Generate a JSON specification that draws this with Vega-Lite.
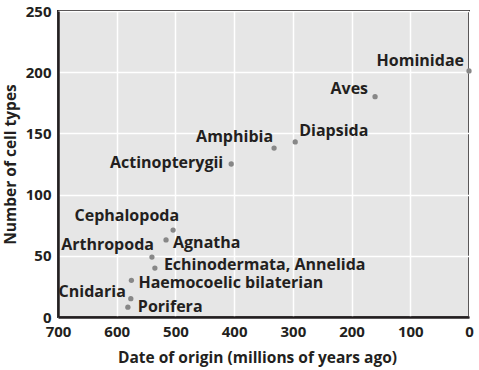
{
  "$schema": "https://vega.github.io/schema/vega-lite/v6.json",
  "width": 411,
  "height": 306,
  "autosize": {"type": "none"},
  "padding": {"left": 58, "top": 11, "right": 10, "bottom": 53},
  "background": "white",
  "config": {
    "view": {"fill": "#e6e6e6", "stroke": "#231f20", "strokeWidth": 2},
    "font": "Open Sans",
    "text": {"font": "Open Sans", "fontWeight": "bold", "fontSize": 16, "color": "#231f20", "baseline": "middle"},
    "axis": {
      "labelFont": "Open Sans", "labelFontWeight": "bold", "labelFontSize": 15, "labelColor": "#231f20",
      "titleFont": "Open Sans", "titleFontWeight": "bold", "titleFontSize": 15.5, "titleColor": "#231f20",
      "gridColor": "white", "gridWidth": 1.5, "gridOpacity": 1,
      "domainColor": "#231f20", "domainWidth": 2.5, "ticks": false
    }
  },
  "data": {
    "values": [
      {"taxon": "Hominidae", "mya": 0, "cells": 201},
      {"taxon": "Aves", "mya": 160, "cells": 180},
      {"taxon": "Diapsida", "mya": 296, "cells": 143},
      {"taxon": "Amphibia", "mya": 332, "cells": 138},
      {"taxon": "Actinopterygii", "mya": 405, "cells": 125},
      {"taxon": "Cephalopoda", "mya": 504, "cells": 71},
      {"taxon": "Agnatha", "mya": 516, "cells": 63},
      {"taxon": "Arthropoda", "mya": 540, "cells": 49},
      {"taxon": "Echinodermata, Annelida", "mya": 535, "cells": 40},
      {"taxon": "Haemocoelic bilaterian", "mya": 575, "cells": 30},
      {"taxon": "Cnidaria", "mya": 576, "cells": 15},
      {"taxon": "Porifera", "mya": 581, "cells": 8}
    ]
  },
  "encoding": {
    "x": {"field": "mya", "type": "quantitative",
          "scale": {"domain": [700, 0], "nice": false},
          "axis": {"values": [700, 600, 500, 400, 300, 200, 100, 0], "labelPadding": 7, "titlePadding": 11, "labelFlush": false,
                   "titleX": 199, "titleAlign": "center",
                   "title": "Date of origin (millions of years ago)"}},
    "y": {"field": "cells", "type": "quantitative",
          "scale": {"domain": [0, 250], "nice": false},
          "axis": {"values": [0, 50, 100, 150, 200, 250], "labelPadding": 7, "titlePadding": 7, "labelFlush": false,
                   "title": "Number of cell types"}},
    "text": {"field": "taxon"}
  },
  "layer": [
    {"mark": {"type": "circle", "size": 28, "color": "#878787", "opacity": 1}, "encoding": {"text": null}},
    {"transform": [{"filter": {"field": "taxon", "equal": "Hominidae"}}], "mark": {"type": "text", "align": "right", "dx": -5, "dy": -10}},
    {"transform": [{"filter": {"field": "taxon", "equal": "Aves"}}], "mark": {"type": "text", "align": "right", "dx": -7, "dy": -8}},
    {"transform": [{"filter": {"field": "taxon", "equal": "Amphibia"}}], "mark": {"type": "text", "align": "right", "dx": -1, "dy": -11}},
    {"transform": [{"filter": {"field": "taxon", "equal": "Cephalopoda"}}], "mark": {"type": "text", "align": "right", "dx": 6, "dy": -14}},
    {"transform": [{"filter": {"field": "taxon", "equal": "Arthropoda"}}], "mark": {"type": "text", "align": "right", "dx": 2, "dy": -12}},
    {"transform": [{"filter": {"field": "taxon", "equal": "Cnidaria"}}], "mark": {"type": "text", "align": "right", "dx": -5, "dy": -7}},
    {"transform": [{"filter": {"field": "taxon", "equal": "Actinopterygii"}}], "mark": {"type": "text", "align": "right", "dx": -8, "dy": -1}},
    {"transform": [{"filter": {"field": "taxon", "equal": "Diapsida"}}], "mark": {"type": "text", "align": "left", "dx": 4, "dy": -11}},
    {"transform": [{"filter": {"field": "taxon", "equal": "Agnatha"}}], "mark": {"type": "text", "align": "left", "dx": 7, "dy": 3}},
    {"transform": [{"filter": {"field": "taxon", "equal": "Echinodermata, Annelida"}}], "mark": {"type": "text", "align": "left", "dx": 9, "dy": -3}},
    {"transform": [{"filter": {"field": "taxon", "equal": "Haemocoelic bilaterian"}}], "mark": {"type": "text", "align": "left", "dx": 7, "dy": 3}},
    {"transform": [{"filter": {"field": "taxon", "equal": "Porifera"}}], "mark": {"type": "text", "align": "left", "dx": 10, "dy": 0}}
  ]
}
